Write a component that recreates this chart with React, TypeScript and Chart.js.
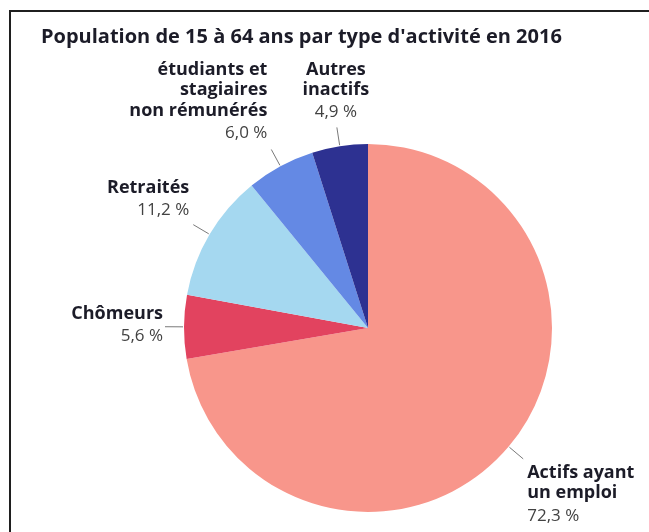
import React, { useEffect, useRef } from "react";
import { Chart, registerables } from "chart.js";

Chart.register(...registerables);

// Population aged 15 to 64 by activity status, 2016 (percent)
const categories = [
  ["Actifs ayant", "un emploi"],
  ["Chômeurs"],
  ["Retraités"],
  ["étudiants et", "stagiaires", "non rémunérés"],
  ["Autres", "inactifs"],
];
const shares = [72.3, 5.6, 11.2, 6.0, 4.9];
const shareLabels = ["72,3 %", "5,6 %", "11,2 %", "6,0 %", "4,9 %"];
const sliceColors = ["#F8968B", "#E2435F", "#A5D8F0", "#6489E4", "#2D3191"];

const titleText = "Population de 15 à 64 ans par type d'activité en 2016";

// Placement of each text block relative to the outer end of its leader line
const labelPlacement: { align: CanvasTextAlign; dx: number; dy: number }[] = [
  { align: "left", dx: 4, dy: 14 },
  { align: "right", dx: -2, dy: -13 },
  { align: "right", dx: -4, dy: -37 },
  { align: "right", dx: -4, dy: -80 },
  { align: "center", dx: -1, dy: -58 },
];

const BOLD_FONT = "bold 18px 'Open Sans'";
const VALUE_FONT = "17px 'Open Sans'";
const LINE_STEP = 20.5;
const VALUE_STEP = 22.5;

const framePlugin = {
  id: "frame",
  beforeDraw(chart: any) {
    const ctx = chart.ctx as CanvasRenderingContext2D;
    ctx.save();
    ctx.fillStyle = "#ffffff";
    ctx.fillRect(0, 0, chart.width, chart.height);
    ctx.fillStyle = "#1f1f1f";
    ctx.fillRect(9, 10, chart.width - 9, 2);
    ctx.fillRect(9, 10, 2, chart.height - 10);
    ctx.fillStyle = "#1c1c28";
    ctx.font = "bold 20px 'Open Sans'";
    ctx.textAlign = "left";
    ctx.textBaseline = "alphabetic";
    ctx.fillText(titleText, 41, 43);
    ctx.restore();
  },
};

const sliceLabelPlugin = {
  id: "sliceLabels",
  afterDatasetsDraw(chart: any) {
    const ctx = chart.ctx as CanvasRenderingContext2D;
    const meta = chart.getDatasetMeta(0);
    ctx.save();
    meta.data.forEach((arc: any, i: number) => {
      const { x, y, startAngle, endAngle, outerRadius } = arc.getProps(
        ["x", "y", "startAngle", "endAngle", "outerRadius"],
        true
      );
      const mid = (startAngle + endAngle) / 2;
      const r0 = outerRadius + 1;
      const r1 = outerRadius + 19;
      const x0 = x + Math.cos(mid) * r0;
      const y0 = y + Math.sin(mid) * r0;
      const x1 = x + Math.cos(mid) * r1;
      const y1 = y + Math.sin(mid) * r1;

      ctx.strokeStyle = "#7a7a7a";
      ctx.lineWidth = 1;
      ctx.beginPath();
      ctx.moveTo(x0, y0);
      ctx.lineTo(x1, y1);
      ctx.stroke();

      const place = labelPlacement[i];
      const tx = x1 + place.dx;
      let ty = y1 + place.dy;
      ctx.textAlign = place.align;
      ctx.textBaseline = "middle";
      ctx.font = BOLD_FONT;
      ctx.fillStyle = "#1c1c28";
      categories[i].forEach((line, k) => {
        ctx.fillText(line, tx, ty + k * LINE_STEP);
      });
      ty += (categories[i].length - 1) * LINE_STEP + VALUE_STEP;
      ctx.font = VALUE_FONT;
      ctx.fillStyle = "#424242";
      ctx.fillText(shareLabels[i], tx, ty);
    });
    ctx.restore();
  },
};

export default function App() {
  const canvasRef = useRef<HTMLCanvasElement | null>(null);

  useEffect(() => {
    if (!canvasRef.current) return;
    const chart = new Chart(canvasRef.current, {
      type: "pie",
      data: {
        labels: categories.map((c) => c.join(" ")),
        datasets: [
          {
            data: shares,
            backgroundColor: sliceColors,
            borderWidth: 0,
          },
        ],
      },
      options: {
        responsive: false,
        animation: false,
        devicePixelRatio: 1,
        layout: { padding: { left: 184, right: 97, top: 144, bottom: 20 } },
        plugins: {
          legend: { display: false },
          title: { display: false },
          tooltip: { enabled: false },
        },
      },
      plugins: [framePlugin, sliceLabelPlugin],
    });
    return () => chart.destroy();
  }, []);

  return (
    <div style={{ position: "absolute", left: 0, top: 0, width: 649, height: 532 }}>
      <canvas ref={canvasRef} width={649} height={532} />
    </div>
  );
}
